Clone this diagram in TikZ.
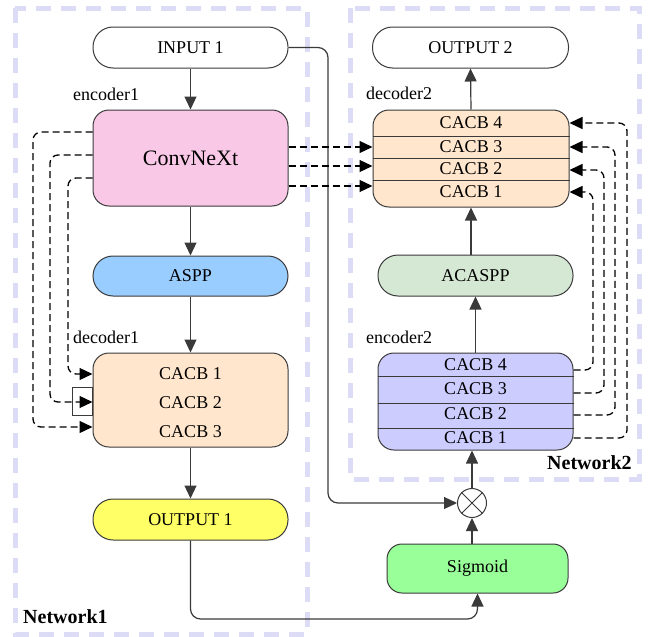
\documentclass[tikz,border=0pt]{standalone}
\usepackage{fontspec}
\setmainfont{Liberation Serif}
\usetikzlibrary{arrows.meta,calc}

\definecolor{edgegray}{HTML}{3A3A3A}
\definecolor{netdash}{HTML}{DCDCF6}
\definecolor{convpink}{HTML}{F9C8E6}
\definecolor{asppblue}{HTML}{99CCFF}
\definecolor{peach}{HTML}{FFE6CC}
\definecolor{acaspgreen}{HTML}{D5E8D4}
\definecolor{encviolet}{HTML}{CCCCFF}
\definecolor{outyellow}{HTML}{FFFF66}
\definecolor{sigmoidgreen}{HTML}{99FF99}

\begin{document}
\begin{tikzpicture}[x=1pt,y=-1pt,
  txt/.style={font=\rmfamily\fontsize{18}{20}\selectfont, inner sep=0pt},
  box/.style={draw=edgegray, line width=1pt, inner sep=0pt, font=\rmfamily\fontsize{18}{20}\selectfont},
  pill/.style={box, rounded corners=20pt, minimum height=41pt},
  rbox/.style={box, rounded corners=16pt},
  arr/.style={draw=edgegray, line width=1.2pt, -{Triangle[length=13pt,width=12pt]}},
  skip/.style={black, line width=1.3pt, dash pattern=on 7pt off 4pt,
               -{Triangle[length=13pt,width=12pt]}, rounded corners=8pt},
  netbox/.style={draw=netdash, line width=5pt, dash pattern=on 15pt off 10pt},
  netlabel/.style={font=\rmfamily\bfseries\fontsize{20}{22}\selectfont, inner sep=0pt, anchor=west},
  sublabel/.style={txt, anchor=west}
]
\useasboundingbox (0,0) rectangle (648,637);

% network frames
\draw[netbox] (15,8) rectangle (307,634);
\draw[netbox] (350,8) rectangle (639,479);
\node[netlabel] (net1) at (23,617) {Network1};
\node[netlabel] (net2) at (547,463) {Network2};

% ---- Network 1 ----
\node[pill, minimum width=195pt, fill=white] (in1) at (190.5,47.5) {INPUT 1};
\node[sublabel] (enc1lbl) at (73,94) {encoder1};
\node[rbox, minimum width=195pt, minimum height=96pt, fill=convpink,
      font=\rmfamily\fontsize{22}{24}\selectfont] (conv) at (190.5,158) {ConvNeXt};
\node[pill, minimum width=195pt, minimum height=40pt, fill=asppblue] (aspp) at (190.5,276) {ASPP};
\node[sublabel] (dec1lbl) at (73,337) {decoder1};
\node[rbox, minimum width=195pt, minimum height=94pt, fill=peach] (dec1) at (190.5,400) {};
\node[txt] (d1c1) at (190.5,374) {CACB 1};
\node[txt] (d1c2) at (190.5,403) {CACB 2};
\node[txt] (d1c3) at (190.5,432) {CACB 3};
\node[draw=edgegray, line width=1pt, minimum width=20pt, minimum height=28pt, inner sep=0pt,
      anchor=east] (stub) at (dec1.west |- 0,401) {};
\node[pill, minimum width=195pt, fill=outyellow] (out1) at (190.5,519.5) {OUTPUT 1};

% ---- Network 2 ----
\node[pill, minimum width=196pt, fill=white] (out2) at (470.5,47.5) {OUTPUT 2};
\node[sublabel] (dec2lbl) at (366,93) {decoder2};
\node[rbox, minimum width=196pt, minimum height=97pt, fill=peach] (dec2) at (471,158.5) {};
\foreach \yy in {136,158,180}
  \draw[edgegray, line width=1pt] (dec2.west |- 0,\yy) -- (dec2.east |- 0,\yy);
\node[txt] (d2c4) at (471,123) {CACB 4};
\node[txt] (d2c3) at (471,147) {CACB 3};
\node[txt] (d2c2) at (471,169) {CACB 2};
\node[txt] (d2c1) at (471,192) {CACB 1};

\node[pill, minimum width=195pt, fill=acaspgreen] (acaspp) at (475.5,275.5) {ACASPP};
\node[sublabel] (enc2lbl) at (366,337) {encoder2};
\node[rbox, minimum width=195pt, minimum height=97pt, fill=encviolet] (enc2) at (475.5,401.5) {};
\foreach \yy in {376,403,428}
  \draw[edgegray, line width=1pt] (enc2.west |- 0,\yy) -- (enc2.east |- 0,\yy);
\node[txt] (e2c4) at (475.5,365) {CACB 4};
\node[txt] (e2c3) at (475.5,389) {CACB 3};
\node[txt] (e2c2) at (475.5,414) {CACB 2};
\node[txt] (e2c1) at (475.5,438) {CACB 1};

\node[draw=edgegray, line width=1pt, circle, minimum size=29pt, inner sep=0pt, fill=white] (ot) at (472,503) {};
\draw[edgegray, line width=1pt] (ot.north west) -- (ot.south east) (ot.north east) -- (ot.south west);
\node[rbox, rounded corners=15pt, minimum width=181pt, minimum height=49pt, fill=sigmoidgreen] (sig) at (477.5,568.5) {Sigmoid};

% ---- main flow ----
\draw[arr] (in1) -- (conv);
\draw[arr] (conv) -- (aspp);
\draw[arr] (aspp) -- (dec1);
\draw[arr] (dec1) -- (out1);
\draw[arr, rounded corners=10pt] (out1.south) |- (sig.south |- 0,619) -- (sig.south);
\draw[arr, rounded corners=10pt] (in1.east) -| (328,503) -- (ot.west);
\draw[arr] (ot.south |- sig.north) -- (ot.south);
\draw[arr] (ot.north) -- (ot.north |- enc2.south);
\draw[arr] (enc2.north) -- (acaspp.south);
\draw[arr] (acaspp.north -| dec2.south) -- (dec2.south);
\draw[arr] (dec2.north) -- (out2.south);

% ---- skip connections, network 1 ----
\draw[skip] (conv.west |- 0,132) -| (33,427) -- (dec1.west |- 0,427);
\draw[skip] (conv.west |- 0,155) -| (50,402) -- (dec1.west |- 0,402);
\draw[skip] (conv.west |- 0,178) -| (68,374) -- (dec1.west |- 0,374);

% ---- encoder1 to decoder2 ----
\draw[skip] (conv.east |- 0,147) -- (dec2.west |- 0,147);
\draw[skip] (conv.east |- 0,166) -- (dec2.west |- 0,166);
\draw[skip] (conv.east |- 0,186) -- (dec2.west |- 0,186);

% ---- skip connections, network 2 ----
\draw[skip] (enc2.east |- 0,370) -| (593,192) -- (dec2.east |- 0,192);
\draw[skip] (enc2.east |- 0,393) -| (604,170) -- (dec2.east |- 0,170);
\draw[skip] (enc2.east |- 0,415) -| (615,147) -- (dec2.east |- 0,147);
\draw[skip] (enc2.east |- 0,438) -| (627,123) -- (dec2.east |- 0,123);
\end{tikzpicture}
\end{document}
